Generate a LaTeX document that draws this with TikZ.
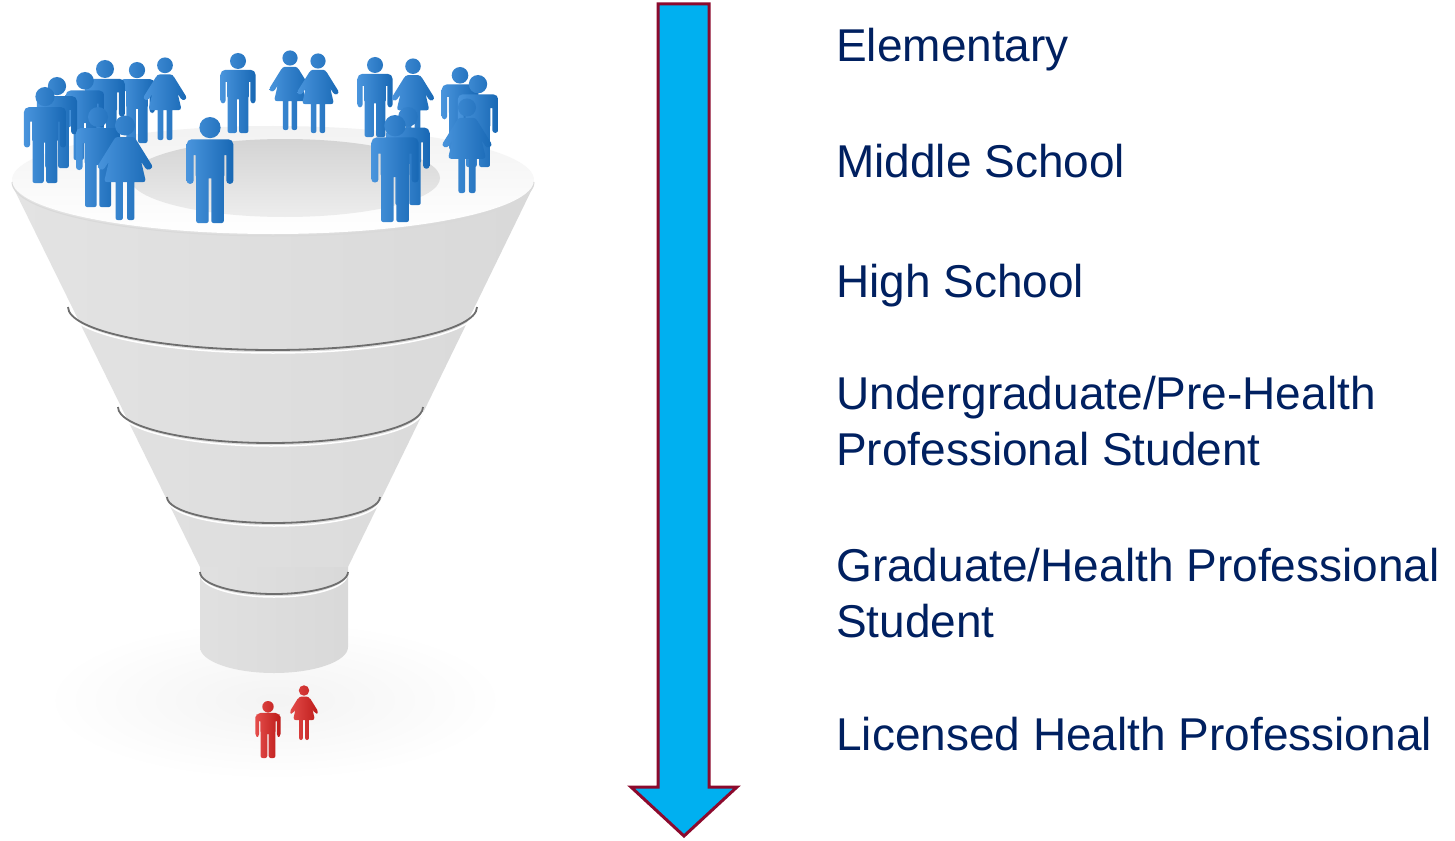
\documentclass[tikz,border=0pt]{standalone}
\usepackage{fontspec}
\setmainfont{Liberation Sans}
\definecolor{navy}{RGB}{0,32,96}
\definecolor{arrowfill}{RGB}{0,176,240}
\definecolor{arrowline}{RGB}{140,10,45}
\definecolor{figblue}{RGB}{28,122,212}
\definecolor{figred}{RGB}{222,32,30}
\definecolor{seam}{RGB}{110,110,110}
\tikzset{
  pics/man/.style={code={
    \shade[left color=#1!80!white, right color=#1!85!black]
      (0,-90) circle[radius=10]
      [rounded corners=5] (-22,-79) rectangle (22,-64)
      [rounded corners=3] (-22,-76) rectangle (-15.5,-37)
      (15.5,-76) rectangle (22,-37)
      (-13.5,-78) rectangle (13.5,-42)
      [rounded corners=2] (-13,-48) rectangle (-1.3,0)
      (1.3,-48) rectangle (13,0);
  }},
  pics/woman/.style={code={
    \shade[left color=#1!80!white, right color=#1!85!black]
      (0,-90) circle[radius=9.5]
      [rounded corners=3] (-10,-79) -- (10,-79) -- (20,-36) -- (-20,-36) -- cycle
      (-9,-79) -- (-6,-70) -- (-21,-47) -- (-27,-50) -- cycle
      (9,-79) -- (27,-50) -- (21,-47) -- (6,-70) -- cycle
      [rounded corners=2] (-9,0) rectangle (-2,-40)
      (2,0) rectangle (9,-40);
  }},
  label/.style={anchor=base west, inner sep=0pt, align=left, text=navy,
    font=\fontsize{46}{56}\selectfont},
  seamline/.style={draw=seam, line width=1.8pt},
  seamlight/.style={draw=white, line width=1.5pt},
}
\begin{document}
\begin{tikzpicture}[x=1pt,y=-1pt]
\useasboundingbox (0,0) rectangle (1455,840);
\fill[white] (0,0) rectangle (1455,840);

% floor shadow
\shade[inner color=gray!9, outer color=white] (275,700) ellipse[x radius=230, y radius=80];

% ---- funnel cone ----
\shade[left color=gray!22, middle color=gray!4, right color=gray!30]
  (12,185) -- (200,567) -- (348,567) -- (534,185) -- cycle;
% band seams
\draw[seamlight] (69,310) arc[start angle=180, end angle=0, x radius=204, y radius=43];
\draw[seamline] (68,307) arc[start angle=180, end angle=0, x radius=204.5, y radius=43];
\draw[seamlight] (119,410) arc[start angle=180, end angle=0, x radius=152, y radius=36];
\draw[seamline] (118,407) arc[start angle=180, end angle=0, x radius=152.5, y radius=36];
\draw[seamlight] (168,500) arc[start angle=180, end angle=0, x radius=106, y radius=26];
\draw[seamline] (167,497) arc[start angle=180, end angle=0, x radius=106.5, y radius=26];

% ---- spout ----
\shade[left color=gray!24, middle color=gray!4, right color=gray!30]
  (200,567) -- (200,647) arc[start angle=180, end angle=0, x radius=74, y radius=26]
  -- (348,567) -- cycle;
\draw[seamlight] (201,575) arc[start angle=180, end angle=0, x radius=73, y radius=22];
\draw[seamline] (200,572) arc[start angle=180, end angle=0, x radius=74, y radius=22];

% ---- rim ----
\shade[top color=gray!10, bottom color=white]
  (273,180) ellipse[x radius=261, y radius=54];
\draw[gray!30, line width=1pt] (12,182) arc[start angle=180, end angle=0, x radius=261, y radius=54];
\shade[top color=gray!34, bottom color=gray!14]
  (285,178) ellipse[x radius=155, y radius=39];

% ---- blue people, back to front ----
\pic[scale=0.80] at (238,133) {man=figblue};
\pic[scale=0.80] at (290,130) {woman=figblue};
\pic[scale=0.80] at (318,133) {woman=figblue};
\pic[scale=0.81] at (137,143) {man=figblue};
\pic[scale=0.83] at (165,140) {woman=figblue};
\pic[scale=0.80] at (375,137) {man=figblue};
\pic[scale=0.82] at (413,140) {woman=figblue};
\pic[scale=0.90] at (105,150) {man=figblue};
\pic[scale=0.83] at (460,150) {man=figblue};
\pic[scale=0.88] at (85,160) {man=figblue};
\pic[scale=0.92] at (478,167) {man=figblue};
\pic[scale=0.91] at (57,168) {man=figblue};
\pic[scale=0.96] at (45,183) {man=figblue};
\pic[scale=0.95] at (467,193) {woman=figblue};
\pic[scale=0.98] at (408,205) {man=figblue};
\pic[scale=1.00] at (98,207) {man=figblue};
\pic[scale=1.05] at (125,220) {woman=figblue};
\pic[scale=1.06] at (210,223) {man=figblue};
\pic[scale=1.07] at (395,222) {man=figblue};

% ---- red people ----
\pic[scale=0.55] at (304,740) {woman=figred};
\pic[scale=0.57] at (268,758) {man=figred};

% ---- arrow ----
\filldraw[fill=arrowfill, draw=arrowline, line width=3pt, line join=miter]
  (658,4) -- (709,4) -- (709,787) -- (737,787) -- (684,836)
  -- (631,787) -- (658,787) -- cycle;

% ---- labels (anchor on the baseline of the last line) ----
\node[label] (t1) at (836,62) {Elementary};
\node[label] (t2) at (836,177) {Middle School};
\node[label] (t3) at (836,297) {High School};
\node[label] (t4) at (836,465) {Undergraduate/Pre-Health\\Professional Student};
\node[label] (t5) at (836,637) {Graduate/Health Professional\\Student};
\node[label] (t6) at (836,750) {Licensed Health Professional};
\end{tikzpicture}
\end{document}
